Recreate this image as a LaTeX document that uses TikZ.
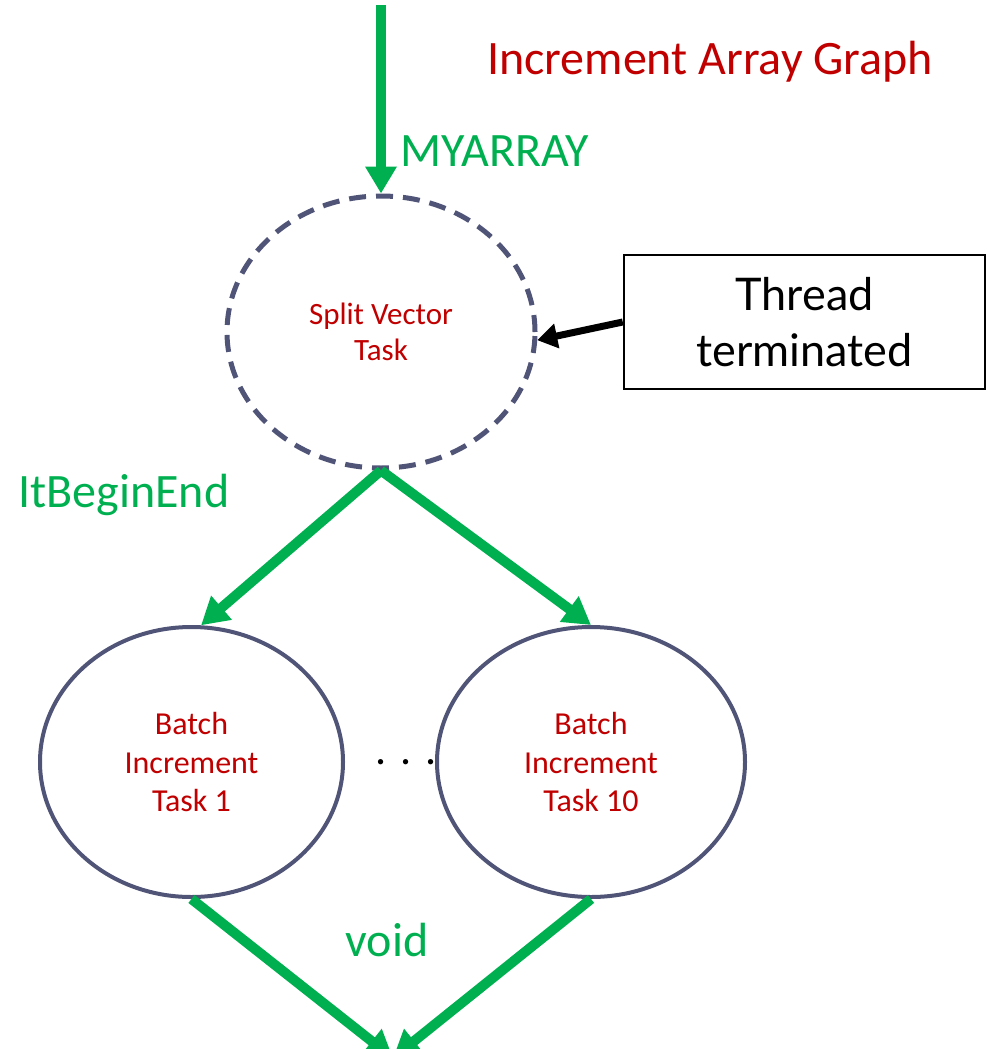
\documentclass[tikz,border=0pt]{standalone}
\usepackage{fontspec}
\setmainfont{Carlito}
\newfontfamily\gillfont{Lato}
\usetikzlibrary{shapes.geometric,arrows.meta}
\definecolor{grn}{RGB}{0,176,80}
\definecolor{rd}{RGB}{192,0,0}
\definecolor{edge}{RGB}{80,85,120}
\tikzset{
  task/.style={ellipse,draw=edge,line width=4pt,inner sep=0pt,text=rd,align=center,font=\fontsize{32}{38.5}\selectfont},
  flow/.style={draw=grn,line width=10pt,-{Triangle[length=27pt,width=30pt]}},
  glabel/.style={text=grn,font=\fontsize{48}{50}\selectfont,inner sep=0pt},
}
\begin{document}
\begin{tikzpicture}[x=1pt,y=-1pt]
\useasboundingbox (0,0) rectangle (986,1049);
\node[task,dashed,line width=5pt,dash pattern=on 17pt off 10pt,minimum width=308pt,minimum height=272pt,font=\fontsize{31}{36}\selectfont] (split) at (381,332) {Split Vector\\Task};
\node[task,minimum width=303pt,minimum height=270pt] (b1) at (191.5,762) {Batch\\Increment\\Task 1};
\node[task,minimum width=308pt,minimum height=270pt] (b2) at (591,762) {Batch\\Increment\\Task 10};
\node[draw=black,line width=2.5pt,minimum width=361pt,minimum height=134pt,inner sep=0pt,align=center,font=\gillfont\fontsize{45}{56}\selectfont] (thread) at (804.5,322) {Thread\\terminated};
\node[text=rd,font=\fontsize{48}{50}\selectfont,inner sep=0pt] (title) at (710,62) {Increment Array Graph};
\node[glabel] (myarray) at (495,151) {MYARRAY};
\node[glabel] (itbe) at (124,495) {ItBeginEnd};
\node[glabel] (void) at (387,940) {void};
\node[font=\fontsize{44}{44}\selectfont,inner sep=0pt] (dots) at (406,762) {.\hspace{14pt}.\hspace{14pt}.};
\coordinate (top) at (381,5);
\coordinate (bottom) at (393,1058);
\draw[flow] (top) -- (split.north);
\draw[line width=7pt,-{Triangle[length=20pt,width=24pt]}] (thread.west) -- (split.-3);
\draw[flow] (split.south) -- (b1.86);
\draw[flow] (split.south) -- (b2.north);
\draw[flow] (b1.south) -- (bottom);
\draw[flow] (b2.south) -- (bottom);
\end{tikzpicture}
\end{document}
